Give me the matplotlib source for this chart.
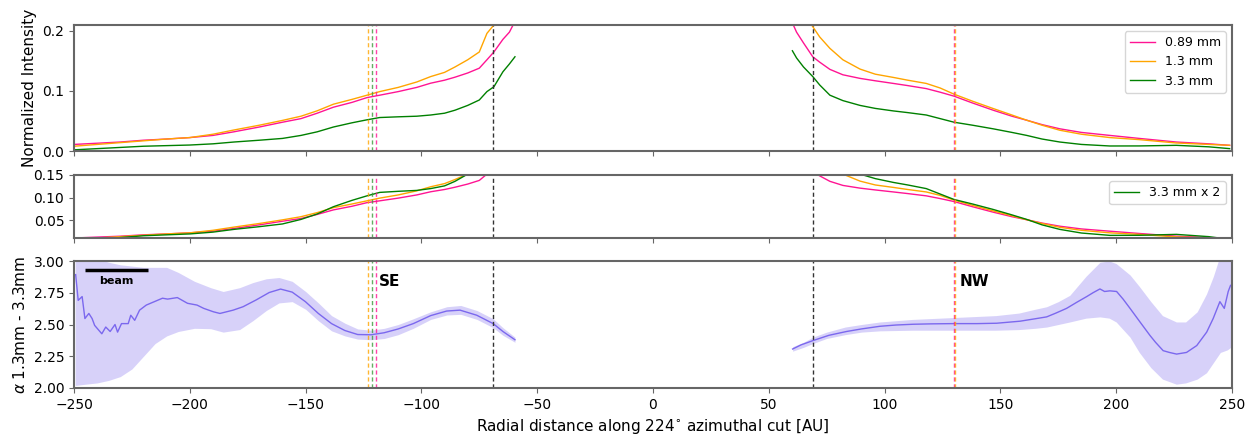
import numpy as np
import matplotlib
matplotlib.use("Agg")
import matplotlib.pyplot as plt

# ---- intensity profiles ----
# SE side (negative radius)
r_se_089 = [-250, -240, -230, -220, -210, -200, -190, -181, -170, -160, -152, -145, -138, -130,
            -123.5, -118, -110, -102, -96, -90, -85.5, -80, -75, -71.7, -68.7, -64.8, -62, -60.4]
i_se_089 = [0.011, 0.013, 0.015, 0.018, 0.020, 0.0224, 0.026, 0.032, 0.040, 0.048, 0.054, 0.063, 0.073, 0.081,
            0.089, 0.093, 0.099, 0.106, 0.113, 0.118, 0.123, 0.130, 0.138, 0.152, 0.165, 0.186, 0.198, 0.21]
r_se_13 = [-250, -240, -230, -220, -210, -200, -190, -181, -170, -160, -152, -145, -138, -130,
           -123.5, -118, -110, -102, -96, -90, -85.5, -80, -75, -71.7, -68.7]
i_se_13 = [0.008, 0.011, 0.014, 0.017, 0.020, 0.0224, 0.028, 0.035, 0.043, 0.051, 0.058, 0.067, 0.078, 0.086,
           0.093, 0.099, 0.106, 0.115, 0.124, 0.131, 0.140, 0.152, 0.165, 0.196, 0.21]
r_se_33 = [-250, -240, -230, -220, -210, -200, -190, -181, -170, -160, -152, -145, -138, -130,
           -123.5, -118, -110, -102, -96, -90, -85.5, -80, -75, -71.7, -68.7, -64.8, -62, -59.6]
i_se_33 = [0.002, 0.004, 0.006, 0.008, 0.009, 0.010, 0.012, 0.015, 0.018, 0.021, 0.026, 0.032, 0.040, 0.047,
           0.052, 0.0558, 0.057, 0.058, 0.060, 0.063, 0.068, 0.076, 0.085, 0.099, 0.107, 0.132, 0.145, 0.157]

# NW side (positive radius)
r_nw_089 = [60.6, 62, 65, 69, 72, 76.4, 82, 89.4, 96, 103.8, 110, 118, 124, 130, 138, 146.9, 155,
            161.4, 168, 175.7, 185, 197.3, 210, 226, 240, 249]
i_nw_089 = [0.21, 0.198, 0.180, 0.157, 0.148, 0.136, 0.127, 0.121, 0.117, 0.1126, 0.109, 0.104, 0.098, 0.0914,
            0.080, 0.068, 0.058, 0.0513, 0.044, 0.037, 0.031, 0.026, 0.021, 0.015, 0.012, 0.0095]
r_nw_13 = [68.5, 72, 76.4, 82, 89.4, 96, 103.8, 110, 118, 124, 130, 138, 146.9, 155,
           161.4, 168, 175.7, 185, 197.3, 210, 226, 240, 249]
i_nw_13 = [0.21, 0.19, 0.171, 0.152, 0.1365, 0.128, 0.1226, 0.118, 0.1126, 0.105, 0.0947, 0.083, 0.0708, 0.060,
           0.0513, 0.043, 0.0346, 0.028, 0.0224, 0.019, 0.0134, 0.011, 0.0095]
r_nw_33 = [60.2, 62, 65, 69, 72, 76.4, 82, 89.4, 96, 103.8, 110, 118, 124, 130, 138, 146.9, 155,
           161.4, 168, 175.7, 185, 197.3, 210, 226, 240, 249]
i_nw_33 = [0.167, 0.155, 0.140, 0.124, 0.110, 0.093, 0.084, 0.076, 0.071, 0.0668, 0.064, 0.060, 0.054, 0.048,
           0.043, 0.037, 0.031, 0.026, 0.020, 0.015, 0.011, 0.0084, 0.0085, 0.0095, 0.007, 0.004]

# ---- spectral index ----
r_alpha_se = [-249.3, -248.2, -246.5, -245.3, -243.6, -242.2, -241.1, -238.0, -236.3, -234.4, -232.3, -231.2,
              -229.5, -226.6, -225.5, -223.8, -221.7, -218.8, -215.3, -211.8, -209.6, -205.4, -201.0, -196.9,
              -194.0, -189.8, -187.0, -181.3, -177.0, -171.4, -165.7, -160.8, -155.8, -150.1, -144.5, -138.8,
              -133.1, -127.5, -121.8, -116.1, -110.0, -103.5, -96.0, -89.1, -83.3, -76.1, -69.0, -64.8, -59.6]
alpha_se = [2.893, 2.69, 2.72, 2.547, 2.587, 2.547, 2.493, 2.427, 2.48, 2.445, 2.50, 2.44,
            2.507, 2.507, 2.573, 2.533, 2.613, 2.653, 2.68, 2.707, 2.70, 2.712, 2.667, 2.653,
            2.627, 2.60, 2.587, 2.613, 2.64, 2.693, 2.752, 2.779, 2.755, 2.68, 2.587, 2.507,
            2.453, 2.421, 2.419, 2.435, 2.465, 2.507, 2.57, 2.606, 2.613, 2.573, 2.507, 2.445, 2.38]
r_alpha_nw = [60.3, 64, 69.2, 76, 83.6, 90, 98, 105, 112.4, 120, 129.7, 140, 148.4, 158.5, 165, 170, 174,
              178.6, 183, 187.3, 190, 193, 195, 197.3, 200.2, 203, 206, 210.3, 214.6, 217, 220.3, 223,
              226.1, 230.4, 234.8, 239.1, 241.9, 244.8, 246.7, 248.4, 249.4]
alpha_nw = [2.307, 2.34, 2.374, 2.415, 2.445, 2.465, 2.486, 2.496, 2.502, 2.505, 2.507, 2.507, 2.51, 2.526,
            2.545, 2.56, 2.59, 2.627, 2.675, 2.72, 2.75, 2.78, 2.76, 2.765, 2.76, 2.70, 2.627, 2.52, 2.414,
            2.36, 2.294, 2.28, 2.267, 2.28, 2.334, 2.44, 2.547, 2.68, 2.627, 2.76, 2.808]

r_band_se = [-249.5, -245, -240, -235, -230, -225, -220, -215, -210, -205, -198, -191, -185.6, -178.5, -172.8,
             -167, -161.5, -155.8, -150, -144.5, -138.8, -133, -127.5, -121.8, -116, -110, -103.5, -96, -89,
             -83, -76, -69, -64.8, -59.6]
hi_se = [3.10, 3.08, 3.02, 2.99, 2.97, 2.96, 2.95, 2.95, 2.95, 2.91, 2.84, 2.79, 2.76, 2.79, 2.83,
         2.86, 2.87, 2.84, 2.76, 2.67, 2.57, 2.51, 2.465, 2.455, 2.47, 2.50, 2.545, 2.60, 2.64,
         2.65, 2.61, 2.545, 2.475, 2.40]
lo_se = [2.02, 2.03, 2.04, 2.06, 2.09, 2.15, 2.25, 2.35, 2.41, 2.445, 2.47, 2.467, 2.44, 2.46, 2.53,
         2.61, 2.67, 2.68, 2.62, 2.53, 2.45, 2.41, 2.385, 2.38, 2.39, 2.42, 2.47, 2.54, 2.575,
         2.58, 2.54, 2.475, 2.415, 2.36]
r_band_nw = [60.3, 65, 69, 75, 83, 90, 98, 112, 130, 148, 158, 165, 170, 175, 180, 187, 193, 197, 200, 206,
             210, 215, 220, 226, 230, 235, 239, 242, 245, 248, 249.5]
hi_nw = [2.325, 2.36, 2.40, 2.44, 2.48, 2.50, 2.52, 2.54, 2.555, 2.57, 2.59, 2.62, 2.64, 2.68, 2.73, 2.88,
         2.99, 3.0, 2.98, 2.89, 2.80, 2.68, 2.57, 2.52, 2.52, 2.60, 2.74, 2.88, 3.05, 3.2, 3.3]
lo_nw = [2.29, 2.32, 2.35, 2.39, 2.42, 2.44, 2.45, 2.455, 2.455, 2.455, 2.46, 2.47, 2.48, 2.50, 2.52, 2.55,
         2.56, 2.55, 2.52, 2.40, 2.28, 2.16, 2.07, 2.03, 2.04, 2.07, 2.12, 2.2, 2.28, 2.30, 2.32]

# ring / gap positions
gap_r = [-69, 69]
ring_se = {"orange": -123.0, "#3c9a3c": -121.5, "deeppink": -119.8}
ring_nw = {"deeppink": 130.0, "orange": 130.5}

C089, C13, C33 = "deeppink", "orange", "green"
CA = "mediumslateblue"
SPINE = "0.4"

fig = plt.figure(figsize=(12.59, 4.34), dpi=100)
L, W = 0.0588, 0.9197
ax1 = fig.add_axes([L, 0.652, W, 0.2905])
ax2 = fig.add_axes([L, 0.4516, W, 0.1452])
ax3 = fig.add_axes([L, 0.106, W, 0.2926])


def markers(ax):
    for g in gap_r:
        ax.axvline(g, color="0.2", ls="--", lw=1, dashes=(3, 2))
    for c, r in ring_se.items():
        ax.axvline(r, color=c, ls="--", lw=1, dashes=(3, 2), alpha=0.8)
    for c, r in ring_nw.items():
        ax.axvline(r, color=c, ls="--", lw=1, dashes=(3, 2), alpha=0.8)


# top panel
ax1.plot(r_se_089, i_se_089, color=C089, lw=1, label="0.89 mm")
ax1.plot(r_se_13, i_se_13, color=C13, lw=1, label="1.3 mm")
ax1.plot(r_se_33, i_se_33, color=C33, lw=1, label="3.3 mm")
ax1.plot(r_nw_089, i_nw_089, color=C089, lw=1)
ax1.plot(r_nw_13, i_nw_13, color=C13, lw=1)
ax1.plot(r_nw_33, i_nw_33, color=C33, lw=1)
markers(ax1)
ax1.set_ylim(0, 0.21)
ax1.set_yticks([0.0, 0.1, 0.2])
ax1.set_ylabel("Normalized Intensity", fontsize=11)
ax1.legend(loc="upper right", fontsize=9)

# middle panel: 3.3 mm scaled by 2
ax2.plot(r_se_089, i_se_089, color=C089, lw=1)
ax2.plot(r_se_13, i_se_13, color=C13, lw=1)
ax2.plot(r_se_33, 2 * np.array(i_se_33), color=C33, lw=1, label="3.3 mm x 2")
ax2.plot(r_nw_089, i_nw_089, color=C089, lw=1)
ax2.plot(r_nw_13, i_nw_13, color=C13, lw=1)
ax2.plot(r_nw_33, 2 * np.array(i_nw_33), color=C33, lw=1)
markers(ax2)
ax2.set_ylim(0.011, 0.15)
ax2.set_yticks([0.05, 0.10, 0.15])
ax2.legend(loc="upper right", fontsize=9)

# bottom panel: spectral index
ax3.fill_between(r_band_se, lo_se, hi_se, color=CA, alpha=0.3, lw=0)
ax3.fill_between(r_band_nw, lo_nw, hi_nw, color=CA, alpha=0.3, lw=0)
ax3.plot(r_alpha_se, alpha_se, color=CA, lw=1)
ax3.plot(r_alpha_nw, alpha_nw, color=CA, lw=1)
markers(ax3)
ax3.set_ylim(2.0, 3.0)
ax3.set_yticks([2.0, 2.25, 2.5, 2.75, 3.0])
ax3.set_ylabel(r"$\alpha$ 1.3mm - 3.3mm", fontsize=11)
ax3.set_xlabel(r"Radial distance along 224$^{\circ}$ azimuthal cut [AU]", fontsize=11)
ax3.text(-118.5, 2.84, "SE", fontsize=11, fontweight="bold", va="center", ha="left")
ax3.text(132.5, 2.84, "NW", fontsize=11, fontweight="bold", va="center", ha="left")
ax3.plot([-245.3, -218.1], [2.93, 2.93], color="k", lw=2.5, solid_capstyle="butt")
ax3.text(-231.7, 2.84, "beam", fontsize=8, fontweight="bold", ha="center", va="center")

for ax in (ax1, ax2, ax3):
    ax.set_xlim(-250, 250)
    ax.set_xticks(np.arange(-250, 251, 50))
    ax.tick_params(labelsize=10, color=SPINE)
    for s in ax.spines.values():
        s.set_color(SPINE)
        s.set_linewidth(1.5)
for ax in (ax1, ax2):
    ax.tick_params(labelbottom=False)

fig.savefig("out.png", dpi=100)
